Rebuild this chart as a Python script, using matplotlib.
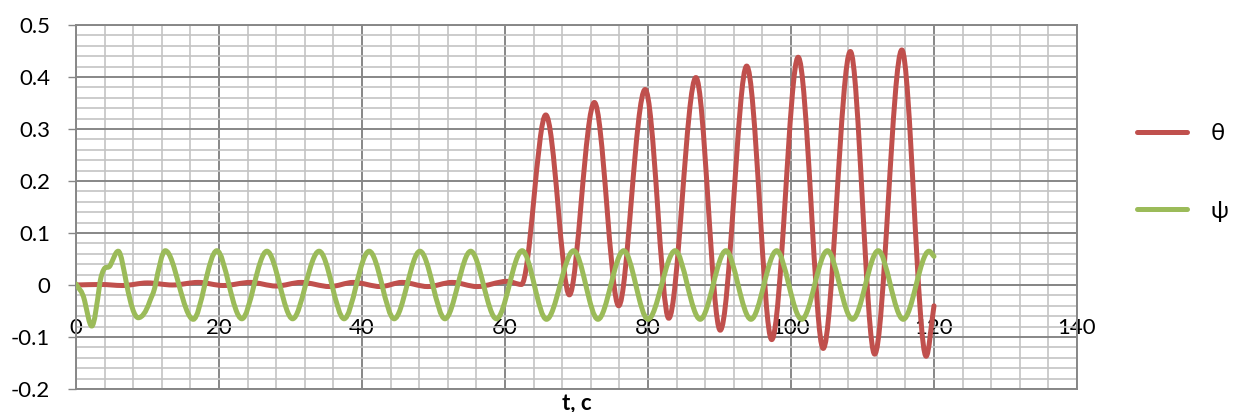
import numpy as np
import matplotlib
matplotlib.use('Agg')
import matplotlib.pyplot as plt
from matplotlib.path import Path
from matplotlib.patches import PathPatch
from matplotlib.lines import Line2D
from matplotlib.ticker import MultipleLocator, FixedLocator

plt.rcParams['font.family'] = ['Lato', 'DejaVu Sans']

# ---- data (key points of each curve) ----
theta_t = [0, 3.5, 6.5, 10.0, 13.5, 17.1, 20.6, 24.4, 28.0, 31.5, 35.5, 38.8, 42.6,
           45.6, 49.2, 52.6, 56.1, 60.3, 62.3,
           64.0, 65.7, 67.4, 69.0, 70.7, 72.5, 74.2, 75.9, 77.7, 79.6, 81.3, 82.9,
           84.8, 86.7, 88.4, 90.1, 92.0, 93.8, 95.6, 97.3, 99.2, 101.0, 102.8, 104.5,
           106.4, 108.3, 110.0, 111.7, 113.6, 115.5, 117.2, 118.9, 120.0]
theta_v = [0.0, 0.001, -0.001, 0.004, 0.0, 0.005, -0.001, 0.005, -0.002, 0.005, -0.003, 0.005, -0.003,
           0.005, -0.003, 0.005, -0.003, 0.007, 0.001,
           0.160, 0.327, 0.155, -0.019, 0.166, 0.351, 0.160, -0.040, 0.168, 0.376, 0.160, -0.064,
           0.168, 0.399, 0.160, -0.087, 0.167, 0.421, 0.158, -0.105, 0.167, 0.438, 0.158, -0.122,
           0.164, 0.449, 0.158, -0.133, 0.160, 0.452, 0.157, -0.137, -0.040]

psi_t = [0, 1.2, 2.2, 3.3, 3.9, 4.8, 5.9, 7.1, 8.7, 10.3, 11.1, 12.5, 14.4, 16.4, 18.0,
         19.7, 21.4, 23.2, 24.9, 26.7, 28.5, 30.3, 32.1, 34.0, 35.8, 37.5, 39.2, 41.0,
         42.8, 44.5, 46.3, 48.1, 49.9, 51.6, 53.4, 55.2, 57.0, 58.8, 60.6, 62.4, 64.1,
         65.8, 67.7, 69.6, 71.3, 73.0, 74.8, 76.6, 78.3, 80.0, 81.9, 83.8, 85.5, 87.3,
         89.1, 90.9, 92.6, 94.4, 96.2, 98.0, 99.7, 101.5, 103.3, 105.1, 106.8, 108.6,
         110.4, 112.2, 113.9, 115.7, 117.5, 119.3, 120.0]
psi_v = [0.002, -0.030, -0.079, 0.0, 0.030, 0.038, 0.065, 0.0, -0.063, -0.032, 0.0, 0.066, 0.0, -0.066, 0.0,
         0.066, 0.0, -0.065, 0.0, 0.065, 0.0, -0.065, 0.0, 0.065, 0.0, -0.065, 0.0, 0.065,
         0.0, -0.065, 0.0, 0.065, 0.0, -0.065, 0.0, 0.065, 0.0, -0.065, 0.0, 0.066, 0.0,
         -0.066, 0.0, 0.066, 0.0, -0.066, 0.0, 0.066, 0.0, -0.066, 0.0, 0.066, 0.0, -0.066,
         0.0, 0.066, 0.0, -0.066, 0.0, 0.066, 0.0, -0.066, 0.0, 0.066, 0.0, -0.066,
         0.0, 0.066, 0.0, -0.066, 0.0, 0.065, 0.055]

x_ticks = [0, 20, 40, 60, 80, 100, 120, 140]
y_ticks = [-0.2, -0.1, 0, 0.1, 0.2, 0.3, 0.4, 0.5]
y_tick_labels = ['-0.2', '-0.1', '0', '0.1', '0.2', '0.3', '0.4', '0.5']
series_names = ['θ', 'ψ']
x_title = 't, c'

RED = '#C0504D'
GREEN = '#9BBB59'
MAJOR = '#878787'
MINOR = '#c4c4c4'


def smooth_path(xs, ys, k=1.5):
    """Smoothed line through the key points (cubic Hermite segments drawn as Bezier curves)."""
    x = np.asarray(xs, float)
    y = np.asarray(ys, float)
    n = len(x)
    d = np.diff(y) / np.diff(x)
    m = np.zeros(n)
    for i in range(n):
        if i == 0:
            m[i] = d[0]
        elif i == n - 1:
            m[i] = d[-1]
        elif d[i - 1] * d[i] <= 0:
            m[i] = 0.0
        else:
            a = max(i - 1, 0)
            b = min(i + 1, n - 1)
            s = k * (y[b] - y[a]) / (x[b] - x[a])
            lim = 3 * min(abs(d[i - 1]), abs(d[i]))
            m[i] = np.sign(s) * min(abs(s), lim)
    verts = [(x[0], y[0])]
    codes = [Path.MOVETO]
    for i in range(n - 1):
        h = x[i + 1] - x[i]
        verts += [(x[i] + h / 3, y[i] + m[i] * h / 3),
                  (x[i + 1] - h / 3, y[i + 1] - m[i + 1] * h / 3),
                  (x[i + 1], y[i + 1])]
        codes += [Path.CURVE4] * 3
    return Path(verts, codes)


fig = plt.figure(figsize=(12.36, 4.12), dpi=100)
ax = fig.add_axes([76 / 1236, 1 - 389 / 412, (1077 - 76) / 1236, 364 / 412])
ax.set_xlim(0, 140)
ax.set_ylim(-0.2, 0.5)

ax.xaxis.set_major_locator(FixedLocator(x_ticks))
ax.xaxis.set_minor_locator(MultipleLocator(4))
ax.yaxis.set_major_locator(FixedLocator(y_ticks))
ax.yaxis.set_minor_locator(MultipleLocator(0.02))
ax.set_yticklabels(y_tick_labels)

ax.grid(which='minor', color=MINOR, lw=1.2, zorder=0)
ax.grid(which='major', color=MAJOR, lw=1.4, zorder=0.5)
ax.set_axisbelow(True)

for side in ['left', 'right', 'top', 'bottom']:
    ax.spines[side].set_color(MAJOR)
    ax.spines[side].set_linewidth(1.4)
ax.spines['bottom'].set_position(('data', 0))
ax.axhline(-0.2, color=MAJOR, lw=1.4, clip_on=False, zorder=0.6)

ax.tick_params(axis='y', which='major', length=5.5, width=1.0, color=MAJOR,
               pad=13, labelsize=16)
ax.tick_params(axis='y', which='minor', length=0)
ax.tick_params(axis='x', which='both', length=0, pad=24, labelsize=16)

ax.set_xlabel(x_title, fontsize=16, fontweight='bold')
ax.xaxis.set_label_coords(0.5, -0.01)

ax.add_patch(PathPatch(smooth_path(theta_t, theta_v), fill=False, edgecolor=RED,
                       lw=3.6, capstyle='round', joinstyle='round', zorder=3))
ax.add_patch(PathPatch(smooth_path(psi_t, psi_v), fill=False, edgecolor=GREEN,
                       lw=3.6, capstyle='round', joinstyle='round', zorder=4))

handles = [Line2D([], [], color=RED, lw=3.6, solid_capstyle='round'),
           Line2D([], [], color=GREEN, lw=3.6, solid_capstyle='round')]
fig.legend(handles, series_names, loc='upper left',
           bbox_to_anchor=(1137 / 1236, 1 - 123 / 412), frameon=False,
           fontsize=17, handlelength=2.1, handletextpad=1.0, labelspacing=2.4,
           borderpad=0, borderaxespad=0)

fig.savefig('out.png', dpi=100)
